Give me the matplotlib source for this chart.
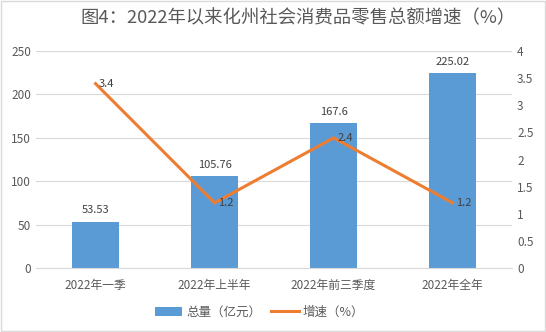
import numpy as np
import matplotlib.pyplot as plt

plt.rcParams['font.family'] = ['Noto Sans CJK SC', 'DejaVu Sans']

categories = ['2022年一季', '2022年上半年', '2022年前三季度', '2022年全年']
total = [53.53, 105.76, 167.6, 225.02]
growth = [3.4, 1.2, 2.4, 1.2]
total_labels = ['53.53', '105.76', '167.6', '225.02']

grey = '#595959'
fig = plt.figure(figsize=(5.46, 3.32), dpi=100)
ax = fig.add_axes([0.066, 0.193, 0.872, 0.653])
ax2 = ax.twinx()

x = np.arange(len(categories))
ax.bar(x, total, width=0.4, color='#5B9BD5', label='总量（亿元）', zorder=2)
ax2.plot(x, growth, color='#ED7D31', linewidth=2.2, label='增速（%）', zorder=3)

for xi, v, t in zip(x, total, total_labels):
    ax.text(xi, v + 7, t, ha='center', va='bottom', fontsize=8, color='#404040')
for xi, g in zip(x, growth):
    ax2.text(xi + 0.03, g, str(g), ha='left', va='center', fontsize=8, color='#404040')

ax.set_ylim(0, 250)
ax.set_yticks(range(0, 251, 50))
ax2.set_ylim(0, 4)
ax2.set_yticks(np.arange(0, 4.01, 0.5))
ax2.set_yticklabels(['0', '0.5', '1', '1.5', '2', '2.5', '3', '3.5', '4'])
ax.set_xlim(-0.5, 3.5)
ax.set_xticks(x)
ax.set_xticklabels(categories)
ax.grid(axis='y', color='#D9D9D9', linewidth=0.8, zorder=0)
for a in (ax, ax2):
    for s in a.spines.values():
        s.set_visible(False)
    a.tick_params(length=0, labelsize=8.5, colors=grey)
ax.spines['bottom'].set_visible(True)
ax.spines['bottom'].set_color('#D9D9D9')
ax.tick_params(axis='x', pad=8)

fig.text(0.546, 0.945, '图4：2022年以来化州社会消费品零售总额增速（%）',
         ha='center', va='center', fontsize=13.2, color=grey)

h1, l1 = ax.get_legend_handles_labels()
h2, l2 = ax2.get_legend_handles_labels()
fig.legend(h1 + h2, l1 + l2, loc='center', bbox_to_anchor=(0.475, 0.06), ncol=2,
           frameon=False, fontsize=9, labelcolor=grey, handlelength=2.2,
           columnspacing=0.8, handletextpad=0.3)

fig.patches.append(plt.Rectangle((0.002, 0.003), 0.996, 0.994, transform=fig.transFigure,
                                 fill=False, edgecolor='#D9D9D9', linewidth=1))

fig.savefig('out.png', dpi=100)
